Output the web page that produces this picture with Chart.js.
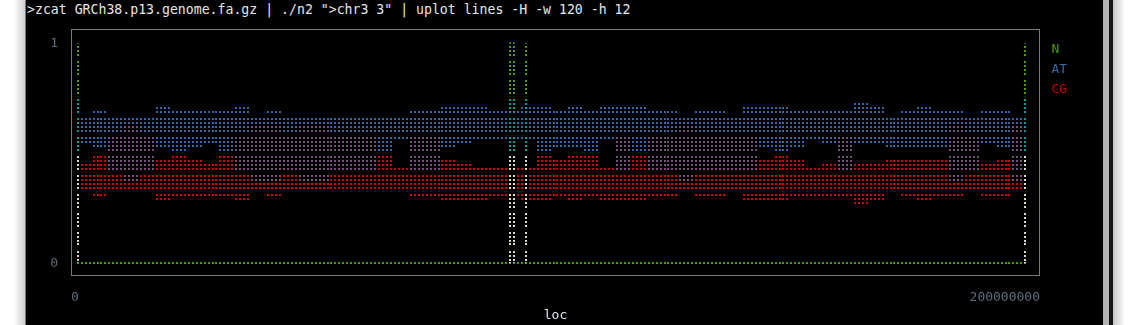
<!DOCTYPE html>
<html>
<head>
<meta charset="utf-8">
<script src="https://cdn.jsdelivr.net/npm/chart.js@4.4.1/dist/chart.umd.min.js"></script>
<style>
body { margin:0; background:#fff; width:1138px; height:325px; overflow:hidden; position:relative; }
#shadeL { position:absolute; left:0; top:0; width:25px; height:325px; background:linear-gradient(to right, #fff 0, #fff 14px, #cfcfcf 25px); }
#edgeL { position:absolute; left:25px; top:0; width:1px; height:325px; background:#7a7a7a; }
#term { position:absolute; left:26px; top:0; width:1077px; height:325px; background:#000; }
#scroll { position:absolute; left:1103px; top:0; width:6px; height:325px; background:#b3b3b3; }
#edgeR { position:absolute; left:1109px; top:0; width:4px; height:325px; background:#151515; }
#shadeR { position:absolute; left:1113px; top:0; width:25px; height:325px; background:linear-gradient(to right, #c4c4c4 0, #fff 12px); }
#cmd { position:absolute; left:27px; top:2px; font:13.2px/16px "DejaVu Sans Mono", monospace; color:#e6e6e6; white-space:pre; }
canvas { position:absolute; left:0; top:0; }
</style>
</head>
<body>
<div id="shadeL"></div><div id="edgeL"></div><div id="term"></div>
<div id="scroll"></div><div id="edgeR"></div><div id="shadeR"></div>
<div id="cmd">&gt;zcat GRCh38.p13.genome.fa.gz | ./n2 "&gt;chr3 3" | uplot lines -H -w 120 -h 12</div>
<canvas id="c" width="1138" height="325"></canvas>
<script>
// chr3 base composition (loc in Mb)
var seriesNames = ['N', 'AT', 'CG'];
var xTickLabels = ['0', '200000000'];
var yTickLabels = ['0', '1'];

// N fraction: telomere, centromere gap, telomere
var nLoc  = [0, 0, 90.83, 90.83, 91.67, 91.67, 94.17, 94.17, 94.17, 199.17, 199.17];
var nFrac = [1, 0, 0,     1,     1,     0,     0,     1,     0,     0,      1];

// AT / CG: lowest and highest value reached inside each 3.33 Mb bin
var binLoc = [1.25, 4.58, 7.92, 11.25, 14.58, 17.92, 21.25, 24.58, 27.92, 31.25,
  34.58, 37.92, 41.25, 44.58, 47.92, 51.25, 54.58, 57.92, 61.25, 64.58,
  67.92, 71.25, 74.58, 77.92, 81.25, 84.58, 87.92, 91.25, 94.58, 97.92,
  101.25, 104.58, 107.92, 111.25, 114.58, 117.92, 121.25, 124.58, 127.92, 131.25,
  134.58, 137.92, 141.25, 144.58, 147.92, 151.25, 154.58, 157.92, 161.25, 164.58,
  167.92, 171.25, 174.58, 177.92, 181.25, 184.58, 187.92, 191.25, 194.58, 197.92];

var atHigh = [0.66, 0.70, 0.66, 0.66, 0.66, 0.715, 0.70, 0.70, 0.70, 0.70,
  0.715, 0.66, 0.70, 0.66, 0.66, 0.66, 0.66, 0.66, 0.66, 0.66,
  0.66, 0.70, 0.70, 0.715, 0.715, 0.715, 0.70, 0.70, 0.715, 0.715,
  0.70, 0.715, 0.70, 0.715, 0.715, 0.715, 0.70, 0.70, 0.66, 0.70,
  0.70, 0.66, 0.715, 0.715, 0.715, 0.70, 0.70, 0.70, 0.70, 0.73,
  0.715, 0.66, 0.70, 0.715, 0.70, 0.70, 0.66, 0.70, 0.70, 0.66];
var atLow = [0.545, 0.528, 0.42, 0.37, 0.42, 0.528, 0.51, 0.528, 0.545, 0.51,
  0.42, 0.37, 0.37, 0.42, 0.37, 0.37, 0.42, 0.42, 0.42, 0.51,
  0.56, 0.42, 0.42, 0.528, 0.545, 0.56, 0.56, 0.56, 0.56, 0.51,
  0.528, 0.528, 0.51, 0.56, 0.42, 0.51, 0.42, 0.42, 0.37, 0.42,
  0.42, 0.42, 0.42, 0.528, 0.51, 0.528, 0.56, 0.545, 0.42, 0.545,
  0.545, 0.528, 0.528, 0.528, 0.528, 0.37, 0.42, 0.545, 0.528, 0.37];
var cgHigh = [0.455, 0.49, 0.58, 0.63, 0.58, 0.47, 0.49, 0.47, 0.455, 0.49,
  0.58, 0.63, 0.63, 0.58, 0.63, 0.63, 0.58, 0.58, 0.58, 0.49,
  0.44, 0.58, 0.58, 0.47, 0.455, 0.44, 0.44, 0.44, 0.44, 0.49,
  0.47, 0.49, 0.49, 0.44, 0.58, 0.49, 0.58, 0.58, 0.63, 0.58,
  0.58, 0.58, 0.58, 0.47, 0.49, 0.47, 0.44, 0.455, 0.58, 0.455,
  0.455, 0.47, 0.47, 0.47, 0.47, 0.63, 0.58, 0.455, 0.47, 0.63];
var cgLow = [0.335, 0.30, 0.335, 0.335, 0.335, 0.285, 0.30, 0.30, 0.30, 0.30,
  0.285, 0.335, 0.30, 0.335, 0.335, 0.335, 0.335, 0.335, 0.335, 0.335,
  0.335, 0.30, 0.30, 0.285, 0.285, 0.285, 0.30, 0.30, 0.285, 0.285,
  0.30, 0.285, 0.30, 0.285, 0.285, 0.285, 0.30, 0.30, 0.335, 0.30,
  0.30, 0.335, 0.285, 0.285, 0.285, 0.30, 0.30, 0.30, 0.30, 0.27,
  0.285, 0.335, 0.30, 0.285, 0.30, 0.30, 0.335, 0.30, 0.30, 0.335];

var green = '#4e9a06', blue = '#3465a4', red = '#cc0000';
var magenta = '#75507b', cyan = '#06989a', white = '#dcd8c2';
var seriesColors = [green, blue, red];
var mono = { family: 'DejaVu Sans Mono', size: 13 };

var atBars = [], cgBars = [], bothBars = [];
for (var i = 0; i < binLoc.length; i++) {
  atBars.push({ x: binLoc[i], y: [atLow[i], atHigh[i]] });
  cgBars.push({ x: binLoc[i], y: [cgLow[i], cgHigh[i]] });
  // where both series share the same cells the terminal mixes them to magenta
  var lo = Math.max(atLow[i], cgLow[i]), hi = Math.min(atHigh[i], cgHigh[i]);
  bothBars.push({ x: binLoc[i], y: lo < hi ? [lo, hi] : null });
}
var nPoints = nLoc.map(function (x, i) { return { x: x, y: nFrac[i] }; });

// vertical N jumps cross the other series: green on top, cyan, then white
function spikeColor(y0, y1) {
  var g = document.getElementById('c').getContext('2d').createLinearGradient(0, Math.min(y0, y1), 0, Math.max(y0, y1));
  g.addColorStop(0, green); g.addColorStop(0.24, green);
  g.addColorStop(0.24, cyan); g.addColorStop(0.5, cyan);
  g.addColorStop(0.5, white); g.addColorStop(1, white);
  return g;
}

// turn the plot area into a braille dot grid (2x4 dots per character cell)
var braille = {
  id: 'braille',
  afterDatasetsDraw: function (chart) {
    var a = chart.chartArea, ctx = chart.ctx, xs = chart.scales.x, ys = chart.scales.y;
    var top = ys.getPixelForValue(1), bottom = ys.getPixelForValue(0);
    var sub = 3.75, rowH = (bottom - top - 3 * sub) / 11;
    ctx.save();
    ctx.beginPath();
    ctx.rect(a.left, a.top, a.right - a.left, a.bottom - a.top);
    for (var c = 0; c < 240; c++) {
      var px = Math.round(xs.getPixelForValue(c * 200 / 240));
      for (var r = 0; r < 48; r++) {
        var py = Math.round(top + rowH * Math.floor(r / 4) + sub * (r % 4));
        ctx.rect(px - 1, py - 1, 2, 2);
      }
    }
    ctx.fillStyle = '#000';
    ctx.fill('evenodd');
    ctx.strokeStyle = '#7a7a7a';
    ctx.lineWidth = 1;
    ctx.strokeRect(a.left + 0.5, a.top + 0.5, a.right - a.left - 1, a.bottom - a.top - 1);
    ctx.restore();
  }
};

var barStyle = { grouped: false, barPercentage: 1, categoryPercentage: 1, borderWidth: 0 };

var chart = new Chart(document.getElementById('c').getContext('2d'), {
  type: 'bar',
  data: {
    datasets: [
      { type: 'line', label: 'N', order: 0, data: nPoints, borderColor: green, borderWidth: 3,
        pointRadius: 0, tension: 0,
        segment: { borderColor: function (s) { return s.p0.x === s.p1.x ? spikeColor(s.p0.y, s.p1.y) : undefined; } } },
      Object.assign({ label: 'AT', order: 3, data: atBars, backgroundColor: blue }, barStyle),
      Object.assign({ label: 'CG', order: 2, data: cgBars, backgroundColor: red }, barStyle),
      Object.assign({ label: 'AT+CG', order: 1, data: bothBars, backgroundColor: magenta }, barStyle)
    ]
  },
  options: {
    responsive: false,
    animation: false,
    devicePixelRatio: 1,
    layout: { padding: { top: 29, left: 0, right: 0, bottom: 0 } },
    scales: {
      x: {
        type: 'linear', min: -1.41, max: 202.25, offset: false,
        grid: { display: false, drawTicks: false }, border: { display: false },
        afterBuildTicks: function (s) { s.ticks = [{ value: s.min }, { value: s.max }]; },
        afterFit: function (s) { s.height = 49; },
        ticks: { autoSkip: false, maxRotation: 0, align: 'inner', padding: 14, color: '#5e6b79', font: mono,
          callback: function (v, i) { return xTickLabels[i]; } },
        title: { display: true, text: 'loc', color: '#dde7f3', font: mono, padding: { top: 0, bottom: 2 } }
      },
      y: {
        type: 'linear', min: -0.0568, max: 1.0649,
        grid: { display: false, drawTicks: false }, border: { display: false },
        afterBuildTicks: function (s) { s.ticks = [{ value: 0 }, { value: 1 }]; },
        afterFit: function (s) { s.width = 71; },
        ticks: { padding: 13, color: '#5e6b79', font: mono,
          callback: function (v, i) { return yTickLabels[i]; } }
      }
    },
    plugins: {
      tooltip: { enabled: false },
      legend: {
        position: 'right', align: 'start',
        title: { display: true, text: ' ', font: { size: 7, lineHeight: 1 }, padding: 0 },
        labels: {
          boxWidth: -2, padding: 7, font: mono,
          generateLabels: function () {
            return seriesNames.map(function (name, k) {
              return { text: name, fontColor: seriesColors[k], fillStyle: 'rgba(0,0,0,0)',
                strokeStyle: 'rgba(0,0,0,0)', lineWidth: 0, hidden: false, datasetIndex: k };
            });
          }
        }
      }
    }
  },
  plugins: [braille]
});

// legend column is as wide as the space right of the frame
var fitLegend = chart.legend.fit;
chart.legend.fit = function () { fitLegend.call(this); this.width = 98; };
chart.update();
</script>
</body>
</html>
